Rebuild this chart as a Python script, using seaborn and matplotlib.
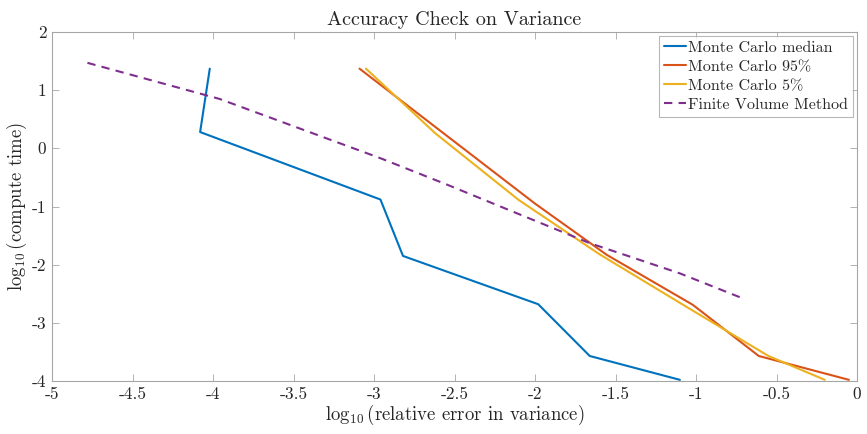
import matplotlib
matplotlib.use("Agg")
import matplotlib.pyplot as plt
import seaborn as sns
import pandas as pd
from matplotlib.ticker import FuncFormatter, MultipleLocator

# Data
median_x = [-4.02, -4.08, -2.96, -2.82, -1.98, -1.66, -1.10]
median_y = [1.37, 0.28, -0.88, -1.85, -2.68, -3.57, -3.98]

p95_x = [-3.09, -2.00, -1.555, -1.02, -0.61, -0.05]
p95_y = [1.37, -0.95, -1.83, -2.69, -3.57, -3.98]

p5_x = [-3.05, -2.62, -2.10, -1.60, -1.05, -0.55, -0.20]
p5_y = [1.37, 0.26, -0.89, -1.82, -2.74, -3.57, -3.98]

fvm_x = [-4.78, -3.96, -2.96, -2.55, -1.66, -1.10, -0.70]
fvm_y = [1.47, 0.85, -0.17, -0.62, -1.63, -2.15, -2.59]

sns.set_theme(style="white")
plt.rcParams["font.family"] = ["serif"]
plt.rcParams["font.serif"] = ["cmr10", "DejaVu Serif"]
plt.rcParams["mathtext.fontset"] = "cm"
plt.rcParams["axes.unicode_minus"] = False

fig = plt.figure(figsize=(8.67, 4.34), dpi=100)
ax = fig.add_axes([52/867, 1-381/434, (857-52)/867, (381-32)/434])

series = [
    ("Monte Carlo median", median_x, median_y, "#0072BD", "-"),
    ("Monte Carlo 95%", p95_x, p95_y, "#D95319", "-"),
    ("Monte Carlo 5%", p5_x, p5_y, "#EDB120", "-"),
    ("Finite Volume Method", fvm_x, fvm_y, "#7E2F8E", (0, (4, 3))),
]
for name, xs, ys, c, ls in series:
    df = pd.DataFrame({"x": xs, "y": ys})
    sns.lineplot(data=df, x="x", y="y", sort=False, ax=ax, color=c,
                 linestyle=ls, linewidth=1.5, label=name,
                 estimator=None)

ax.set_xlim(-5, 0)
ax.set_ylim(-4, 2)
ax.xaxis.set_major_locator(MultipleLocator(0.5))
ax.yaxis.set_major_locator(MultipleLocator(1))
fmt = FuncFormatter(lambda v, p: "%g" % round(v, 2))
ax.xaxis.set_major_formatter(fmt)
ax.yaxis.set_major_formatter(fmt)
ax.tick_params(direction="in", length=5, width=0.6, color="#a6a6a6",
               labelcolor="#262626", labelsize=12.5,
               top=True, right=True, bottom=True, left=True, pad=4)
for s in ax.spines.values():
    s.set_color("#a6a6a6")
    s.set_linewidth(0.8)
    s.set_visible(True)

ax.set_title("Accuracy Check on Variance", fontsize=14.5, pad=5)
ax.set_xlabel(r"$\log_{10}$(relative error in variance)", fontsize=13.5, labelpad=1)
ax.set_ylabel(r"$\log_{10}$(compute time)", fontsize=13.5, labelpad=2)

leg = ax.legend(loc="upper right", fontsize=11.5, frameon=True, fancybox=False,
                handlelength=1.4, handletextpad=0.15, borderpad=0.3,
                labelspacing=0.3, borderaxespad=0.25)
leg.get_frame().set_edgecolor("#a6a6a6")
leg.get_frame().set_linewidth(0.8)

fig.savefig("out.png", dpi=100)
